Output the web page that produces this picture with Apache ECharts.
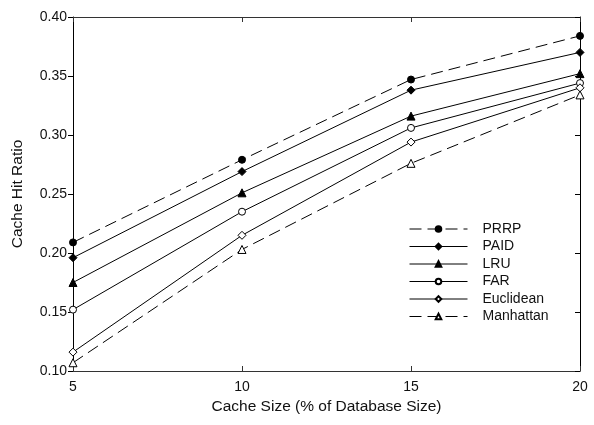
<!DOCTYPE html>
<html><head><meta charset="utf-8">
<script src="https://cdn.jsdelivr.net/npm/echarts@6/dist/echarts.min.js"></script>
<style>html,body{margin:0;padding:0;background:#fff}#c{width:594px;height:425px}</style>
</head><body><div id="c"></div>
<script>
const cacheSizes = [5, 10, 15, 20];
const prrp = [0.209, 0.279, 0.347, 0.384];
const paid = [0.196, 0.269, 0.338, 0.370];
const lru = [0.175, 0.251, 0.316, 0.352];
const far = [0.152, 0.235, 0.306, 0.344];
const euclidean = [0.116, 0.215, 0.294, 0.340];
const manhattan = [0.107, 0.203, 0.276, 0.334];
const yTicks = ['0.10','0.15','0.20','0.25','0.30','0.35','0.40'];

const FONT = 'Liberation Sans, Arial, sans-serif';
function mk(name, vals, symbol, size, dashed, hollow) {
  return {
    name, type: 'line', data: cacheSizes.map((x, i) => [x, vals[i]]),
    symbol, symbolSize: size, showSymbol: true,
    lineStyle: { color: '#000', width: 1, type: dashed ? [12, 6] : 'solid' },
    itemStyle: { color: hollow ? '#fff' : '#000', borderColor: '#000', borderWidth: 1 },
    emphasis: { disabled: true }, animation: false, z: 3
  };
}
const chart = echarts.init(document.getElementById('c'), null, { renderer: 'canvas' });
chart.setOption({
  animation: false,
  backgroundColor: '#fff',
  grid: { left: 73, right: 14, top: 17, bottom: 54 },
  legend: {
    left: 404, top: 217, orient: 'vertical',
    itemWidth: 58, itemHeight: 7, itemGap: 3.5,
    lineStyle: { width: 1 },
    textStyle: { fontFamily: FONT, fontSize: 14, color: '#111', padding: [0, 0, 0, 10] },
    data: ['PRRP', 'PAID', 'LRU', 'FAR', 'Euclidean', 'Manhattan']
  },
  xAxis: [{
    type: 'value', min: 5, max: 20, interval: 5, position: 'bottom',
    name: 'Cache Size (% of Database Size)', nameLocation: 'middle', nameGap: 28,
    nameTextStyle: { fontFamily: FONT, fontSize: 15.5, color: '#111' },
    axisLine: { show: true, lineStyle: { color: '#333', width: 1 } },
    axisTick: { show: true, inside: true, length: 5, lineStyle: { color: '#333' } },
    axisLabel: { fontFamily: FONT, fontSize: 14, color: '#111', margin: 9 },
    splitLine: { show: false }
  }, {
    type: 'value', min: 5, max: 20, interval: 5, position: 'top',
    axisLine: { show: true, lineStyle: { color: '#333', width: 1 } },
    axisTick: { show: true, inside: true, length: 5, lineStyle: { color: '#333' } },
    axisLabel: { show: false }, splitLine: { show: false }
  }],
  yAxis: [{
    type: 'value', min: 0.1, max: 0.4, interval: 0.05, position: 'left',
    name: 'Cache Hit Ratio', nameLocation: 'middle', nameGap: 47,
    nameTextStyle: { fontFamily: FONT, fontSize: 15.5, color: '#111' },
    axisLine: { show: true, lineStyle: { color: '#000', width: 1 } },
    axisTick: { show: true, inside: false, length: 5, lineStyle: { color: '#000' } },
    axisLabel: { fontFamily: FONT, fontSize: 14, color: '#111', margin: 6,
      formatter: v => yTicks[Math.round((v - 0.1) / 0.05)] },
    splitLine: { show: false }
  }, {
    type: 'value', min: 0.1, max: 0.4, interval: 0.05, position: 'right',
    axisLine: { show: true, lineStyle: { color: '#000', width: 1 } },
    axisTick: { show: true, inside: true, length: 5, lineStyle: { color: '#000' } },
    axisLabel: { show: false }, splitLine: { show: false }
  }],
  series: [
    mk('PRRP', prrp, 'circle', 7, true, false),
    mk('PAID', paid, 'diamond', 8, false, false),
    mk('LRU', lru, 'triangle', 8, false, false),
    mk('FAR', far, 'circle', 7, false, true),
    mk('Euclidean', euclidean, 'diamond', 8, false, true),
    mk('Manhattan', manhattan, 'triangle', 8, true, true)
  ]
});
</script></body></html>
